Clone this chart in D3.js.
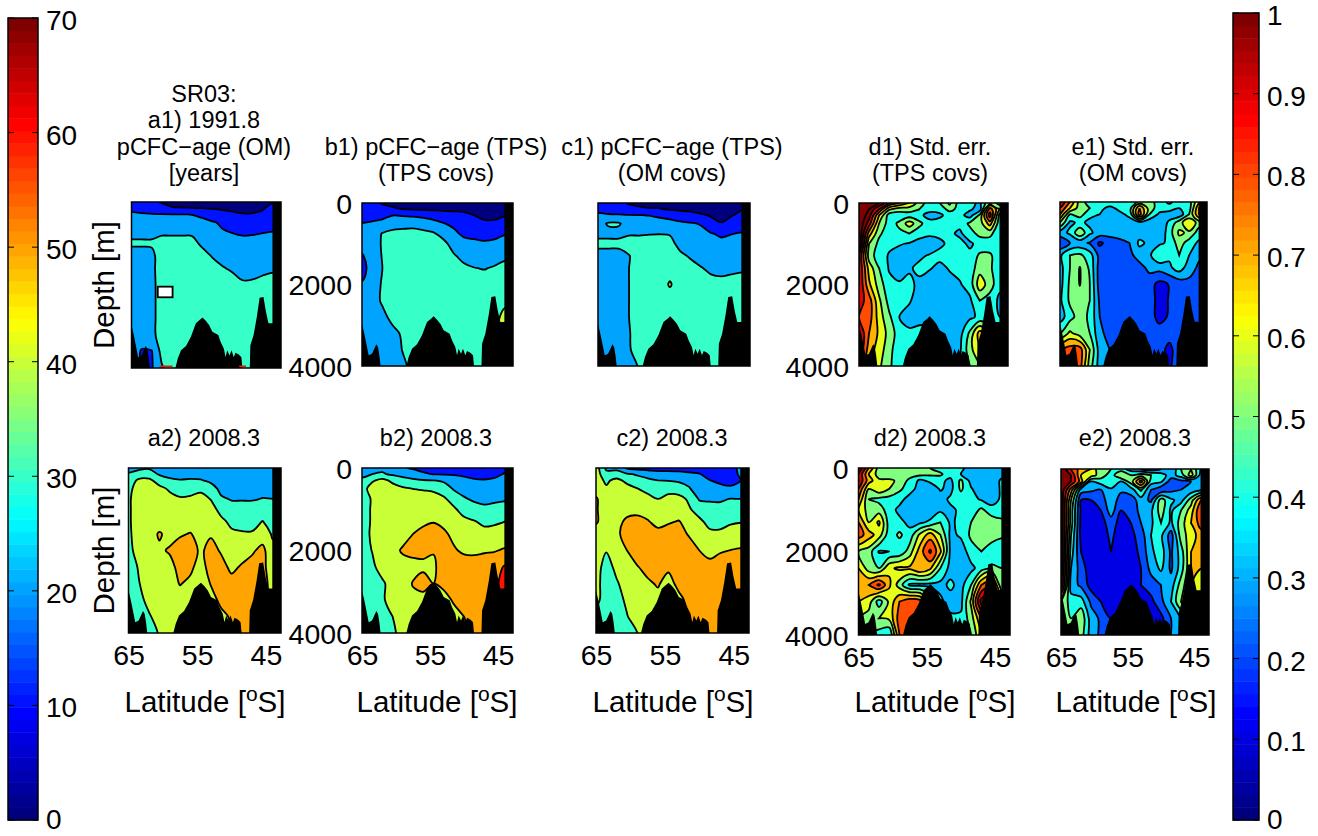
<!DOCTYPE html>
<html>
<head>
<meta charset="utf-8">
<script src="https://cdn.jsdelivr.net/npm/d3@7"></script>
<style>
  body { margin: 0; background: #fff; }
  text { font-family: "Liberation Sans", Arial, sans-serif; fill: #000; }
</style>
</head>
<body>
<svg id="chart" width="1318" height="836"></svg>
<script>
// grid the fields are read on
const gridLat = [65, 63.5, 62, 60.5, 59, 57.5, 56, 54.5, 53, 51.5, 50, 48.5, 47, 45.5, 44];
const gridDepth = [0, 150, 300, 500, 750, 1000, 1300, 1600, 2000, 2400, 2800, 3200, 3600, 4000];

// pCFC-age fields [years], one row per depth
const ageA1 = [
  [13,13,11,9.6,8,7,7,6,6,6,6,6,6,7,9],
  [17,16,15,12,10.6,10.4,10.2,10,9.6,9.2,8.8,8.4,7.6,9,14],
  [22,21,20.6,20.4,20.2,20.1,19.8,17,13,12,11,10.3,10.7,12,15],
  [25,25,25,25,25,25,25,24,21.5,18,16,15,15,16,17],
  [28.5,28.5,28.5,29,29,29,29,26,23.5,21.5,20,19,19.3,20,20.5],
  [31,31,31,33,33,33,32.5,28.5,26,24.5,23.5,23,23,23.5,24],
  [27,27,28,34,34,34,34,33,29.5,27.5,26,25.5,25.5,26,26.5],
  [27,27,28,34,35,35,35,35,33,30.6,29,28,28,28.5,29],
  [26,26,27.5,34,35,35,35,35,35,34,33,30.8,31,32,33],
  [26,26,27.5,34,35,35,35,35,35,35,35,35,35,35,35],
  [26,26,27.5,34,35,35,35,35,35,35,35,35,35,35,35],
  [26,26,27.5,34,35,35,35,35,35,35,35,35,35,35,35],
  [26,19,19.5,33,35,35,35,35,35,35,35,35,35,35,35],
  [26,19,19,29,35,35,35,35,35,35,35,35,35,35,35]
];
const ageB1 = [
  [15,12,9.5,8,7,6,6,6,6,6,5,5,5,5,5],
  [15.5,13,12,11,9.8,9.3,8.7,8.5,8,7.8,7.6,6.5,5.5,5.5,6],
  [16,17,18,19.9,19.5,19,18,16,15,14,12.5,10,8,8,9.5],
  [20.2,21,22,23,24,25,24,23,20.2,18.5,16,14,11.5,11.5,13],
  [24,25,30.5,34,35,35,33,31,26.5,21.5,18.5,18.5,18,18,19.5],
  [24,25,31,35,35,35,35,35,32.5,26,22.5,21.2,20.8,21.5,23],
  [19,25,30.5,35,35,35,35,35,35,31,27,25,24.5,26,28],
  [16,25,30,35,35,35,35,35,35,35,32,30.3,29.5,31,33],
  [21,25,31,35,35,35,35,35,35,35,35,35,35,35,36],
  [25,25,31.5,35,35,35,35,35,35,35,35,35,35,35,36],
  [25,25,27,33,35,35,35,35,35,35,35,35,35,35,45],
  [25,25,24,27,31.5,35,35,35,35,35,35,35,35,38,45],
  [25,25,24,25,30.5,35,35,35,35,35,35,35,35,35,40],
  [25,25,24,24,28,33,35,35,35,35,35,35,35,35,35]
];
const ageC1 = [
  [13,13,12,9.6,9,8.5,8,7.5,7,7,6.5,6,6,6,7],
  [17,16,15,11.5,10.8,10.4,10.4,9,8,7.5,7,6.5,6.5,7.5,9.5],
  [22,21,20.8,20.4,20.2,19.7,18.3,17,15.4,13.7,11,9.2,8.5,9.5,12],
  [27,30.8,30.8,27,26,25,23.8,23,21.4,20.6,19.5,13,10.2,14,16],
  [28,28,28,29,29,29.5,29.7,29.3,25,23,22,20.4,19,19.8,20.5],
  [32,32,32,34,34,34,34,33,27,25,23.5,22.8,21.6,22.3,23],
  [27,27,27,29.5,34,35,35,35,32,29,27,25.5,25,25.5,26],
  [26,26,26,29.9,34,35,35,36,35,33,30.5,28.5,28,28.5,29],
  [26,26,26,29.9,34,35,35,41,35,35,34.5,32.5,32,32.5,33],
  [26,26,26,29.9,34,35,35,35,35,35,35,35,35,35,35],
  [26,26,26,29.9,34,35,35,35,35,35,35,35,35,35,35],
  [26,26,26,29.5,33,35,35,35,35,35,35,35,35,35,35],
  [26,26,26,29,34,35,35,35,35,35,35,35,35,35,35],
  [26,26,26,25,31,35,35,35,35,35,35,35,35,35,35]
];
const ageA2 = [
  [27,28,29,27,26,26,26,26,25,24,24,24,24,24,24],
  [31,34,34.5,29,27.5,27,27.5,27,26,25,25,25,25,25,25],
  [34,42,42,36,31.4,30.4,30.8,30.5,28.5,26.5,26,26,26,26,26],
  [37.5,44,45,42.5,38.6,35,35.8,37.5,33,28,27.5,27.5,27.5,28,28],
  [38.5,45,45,45,43,41.2,41.8,44,39.5,31,29.5,29.5,29.5,30.2,30],
  [38.5,45,45,45,45,45,45,45,44,36.5,32.7,32.5,32.4,35,33],
  [38.5,45,45,45,45,46,46,46,46,42.5,37.5,36.8,36.6,40.3,36.5],
  [38,45,46,51,47,49,50.5,47,49,46,42,41,41,44.5,39],
  [37,44,46,48.5,51,54,54,48.5,53,49,45.5,46,48.5,53,42],
  [34,41,45,46,47,53,52,46,54,53,48,51,54,54,42],
  [32,39.5,45,45,46,50.5,48,45,50.5,54,53,55,55,55,45],
  [31,37,43,46,46,46,46,45,47,52,54,55,55,55,45],
  [30,33,39,44,46,46,46,46,45,48,51,55,55,45,45],
  [30,32,35,41,45,46,46,46,45,46,50,55,55,45,45]
];
const ageB2 = [
  [27,28,28,25,21,19,18,18,17,17,17,17,17,18,18],
  [28,30,31,28.5,27,24,21,19.8,19.5,19,18,17,17,18.5,20.5],
  [31.5,38.5,43,37.5,33.5,32,30.6,30,28.5,25.5,23,21,20.5,21,22.5],
  [35,45,46,44.5,41.5,39.8,39,38,35,29,26.5,24,23,24,25],
  [35,41,46,46,46,46,45,44.5,41.5,36,31,28.5,27.5,28.5,29],
  [36,41,46,46,46,46,46,47,46,41.5,36,33.8,32,32.5,33.5],
  [36,41,46,46,46,47,48,49.5,48,45,42.5,40.6,38,38.5,40],
  [36,41.5,46,46,47,50,53,55,51.5,48,45.5,44,43,44,44],
  [36,40.3,45,47.5,51,52,51.5,50.5,54,51,48.5,48,49,49.5,51],
  [34,38,44,46,46.5,47.5,48.6,48.5,54,55,55,55,55,56,61],
  [34,35,38.5,44,46,50.5,53,50,52,54,55,55,55,57,65],
  [33,35,39,43,46,48,47,48,47,51,55,55,55,55,65],
  [33,34,36,40,45,47,47,47,47,47,50,55,55,55,55],
  [33,34,35,38,44,47,47,47,47,47,47,53,55,55,55]
];
const ageC2 = [
  [45,28,28,19,17,16,16,15,15,15,15,13,12,17,22],
  [45,33,33,31,29,27,24,25,24,22,20.5,17,15,15,22],
  [45,38,43,37,33.7,31.5,30,29.5,28.5,27,23,20.2,18,17,20],
  [46,41.5,45,44,40.2,37,33.5,36.5,35.5,30.8,25,24,22.7,21.5,25],
  [51,45,45,45,45.5,43,40,43,43,38.5,29,29,29,30.2,30],
  [51,45,46,46.5,47,47,45,46,45,41,36,32.7,32.3,35,34],
  [51,46,47,52,53,50.5,48,49,50.5,47,42,37,36.7,39,39.6],
  [46,41,47.5,55,55,54,52,54,54,49,45,42,42,43,44],
  [46,40.5,45,50,55,55,55,55,55,55,50,47,49,50.2,51],
  [44,36,42.5,47,49.5,53,55,52,55,55,55,53,55,55,55],
  [44,34,39,44,47,48.5,51,46,53,55,55,55,55,55,55],
  [44,33,36,42,46,47,47,47,47,53,55,55,55,55,55],
  [33,33,34,39.5,45,47,47,47,47,52,55,55,55,55,55],
  [33,33,33,35,40,46,47,47,47,47,55,55,55,55,55]
];

// standard error fields
const errD1 = [
  [1.2,1.2,1.1,.9,.8,.7,.55,.45,.5,.62,.45,.43,.38,.6,.45],
  [1.2,1.1,.9,.62,.55,.55,.5,.43,.42,.55,.45,.42,.35,.85,.6],
  [1.2,1.05,.7,.45,.44,.45,.42,.37,.39,.42,.44,.35,.52,.95,.45],
  [1.2,.95,.6,.45,.52,.65,.53,.43,.42,.42,.43,.52,.55,.75,.42],
  [1.2,.75,.52,.44,.48,.5,.44,.42,.42,.42,.38,.46,.53,.53,.42],
  [1.2,.6,.47,.42,.41,.39,.36,.34,.38,.42,.43,.38,.44,.44,.42],
  [1,.55,.45,.39,.35,.35,.385,.41,.43,.43,.43,.43,.52,.52,.43],
  [1,.66,.5,.39,.36,.39,.42,.41,.37,.41,.43,.44,.56,.52,.42],
  [1,.72,.55,.43,.41,.42,.38,.33,.33,.36,.39,.44,.66,.55,.42],
  [.95,.85,.62,.46,.43,.41,.35,.33,.33,.33,.34,.38,.5,.45,.38],
  [.9,.85,.65,.52,.4,.36,.38,.38,.33,.33,.33,.38,.42,.4,.4],
  [1,.8,.68,.56,.45,.42,.42,.42,.38,.38,.36,.52,.75,.6,.5],
  [1,.75,.65,.54,.42,.42,.42,.42,.42,.38,.38,.56,.7,.6,.5],
  [.9,.7,.62,.52,.43,.42,.42,.42,.42,.42,.42,.5,.6,.6,.5]
];
const errE1 = [
  [1,.8,.55,.45,.5,.45,.45,.45,.52,.55,.45,.52,.45,.45,.7],
  [.9,.7,.55,.5,.42,.38,.42,.45,.8,.55,.45,.45,.4,.45,.8],
  [.8,.5,.55,.42,.4,.37,.38,.42,.85,.5,.38,.35,.33,.5,.8],
  [.6,.38,.42,.38,.36,.34,.38,.37,.37,.33,.32,.42,.55,.7,.55],
  [.35,.42,.58,.42,.35,.34,.36,.35,.36,.32,.32,.45,.62,.58,.45],
  [.22,.3,.33,.29,.18,.24,.26,.3,.42,.38,.38,.42,.55,.45,.38],
  [.38,.5,.52,.45,.26,.25,.25,.27,.35,.38,.5,.42,.5,.4,.32],
  [.36,.5,.605,.48,.25,.24,.24,.23,.26,.33,.34,.38,.45,.35,.28],
  [.36,.52,.605,.5,.25,.23,.22,.24,.2,.24,.17,.205,.24,.27,.27],
  [.38,.52,.56,.5,.28,.25,.24,.24,.24,.24,.17,.205,.24,.25,.25],
  [.35,.46,.55,.48,.3,.25,.24,.24,.24,.24,.17,.21,.24,.25,.25],
  [.5,.62,.55,.5,.32,.27,.24,.24,.24,.24,.24,.24,.25,.25,.25],
  [.8,.85,.85,.6,.35,.3,.27,.27,.27,.24,.24,.17,.26,.27,.27],
  [.85,.85,.85,.55,.35,.33,.3,.3,.3,.27,.24,.17,.3,.3,.3]
];
const errD2 = [
  [1.1,.8,.55,.5,.5,.5,.5,.5,.45,.43,.42,.36,.35,.35,.35],
  [1,.7,.55,.53,.55,.55,.53,.52,.52,.43,.4,.38,.32,.33,.36],
  [1,.75,.62,.62,.58,.47,.38,.42,.42,.38,.52,.36,.32,.33,.42],
  [.9,.6,.68,.6,.52,.45,.35,.34,.41,.37,.52,.41,.33,.33,.42],
  [.8,.5,.47,.46,.44,.35,.34,.34,.36,.42,.44,.43,.39,.35,.42],
  [.7,.55,.55,.45,.37,.33,.33,.33,.38,.38,.42,.44,.52,.44,.45],
  [.8,.6,.72,.45,.43,.37,.38,.42,.5,.38,.43,.5,.55,.56,.52],
  [.85,.75,.65,.44,.52,.44,.62,.75,.6,.37,.42,.52,.56,.56,.52],
  [.6,.55,.39,.4,.42,.55,.75,.92,.72,.37,.33,.46,.5,.43,.42],
  [.7,.55,.5,.68,.72,.72,.8,.72,.5,.36,.33,.37,.45,.52,.5],
  [.75,.8,.92,.72,.55,.38,.37,.37,.37,.42,.36,.5,.8,.9,.5],
  [.7,.65,.45,.62,.8,.88,.85,.6,.42,.36,.37,.62,1.05,1.1,.8],
  [.6,.55,.6,.62,.85,.9,.88,.6,.45,.42,.42,.55,.8,1.1,1],
  [.6,.5,.45,.4,.8,.88,.85,.6,.45,.42,.42,.5,.7,1.1,1]
];
const errE2 = [
  [1.1,.9,.75,.7,.5,.5,.45,.35,.3,.25,.3,.3,.5,.6,.4],
  [1.1,1,.7,.65,.55,.45,.6,.5,.55,.5,.45,.35,.45,.65,.35],
  [1.1,1,.75,.4,.45,.5,.4,.55,.85,.45,.42,.25,.27,.3,.3],
  [1.1,.75,.35,.32,.3,.38,.32,.35,.52,.3,.22,.27,.3,.33,.38],
  [1.1,.6,.2,.2,.25,.37,.25,.25,.35,.28,.55,.42,.36,.55,.8],
  [1.1,.55,.18,.17,.2,.35,.2,.22,.34,.38,.55,.38,.5,.65,.9],
  [1.1,.55,.17,.16,.16,.25,.16,.2,.3,.38,.5,.38,.55,.7,.85],
  [1.1,.5,.17,.15,.15,.22,.15,.17,.25,.4,.42,.25,.55,.65,.75],
  [1.1,.45,.2,.14,.14,.2,.14,.16,.22,.38,.45,.28,.45,.7,.72],
  [1.1,.4,.25,.14,.14,.14,.14,.15,.2,.33,.42,.28,.45,.7,.7],
  [1,.35,.28,.16,.14,.14,.14,.15,.2,.25,.3,.35,.55,.7,.65],
  [.6,.45,.45,.28,.2,.15,.2,.2,.17,.17,.27,.4,.6,.7,.6],
  [.55,.5,.58,.35,.28,.2,.2,.2,.2,.15,.17,.3,.4,.6,.6],
  [.5,.5,.55,.35,.28,.2,.2,.2,.2,.15,.2,.3,.35,.5,.5]
];

// sea floor plus the land strip, as [latitude, depth]
const bathyLat = [65,64.66,64.26,64.02,63.53,63.19,62.89,62.65,62.45,62.2,58.63,58.14,57.65,56.91,56.18,55.44,54.85,54.46,53.97,53.48,52.99,52.11,51.77,51.28,51.03,50.79,50.44,50.15,49.81,49.56,49.07,48.68,48.48,47.45,47.35,46.87,46.38,45.98,45.4,45.05,44.66,44.07,44.07,42,42,66];
const bathyDepth = [2961,3207,3534,3738,3697,3575,3468,3534,3738,4100,4100,3779,3575,3468,3247,2920,2838,2781,2863,2961,3125,3207,3370,3534,3738,3575,3697,3575,3738,3632,3673,3738,4100,4100,3452,3207,2757,2307,2290,2634,2920,2920,-100,-100,4100,4100];

const ageLevels = [0, 10, 20, 30, 40, 50, 60];
const errLevels = [0, .1, .2, .3, .4, .5, .6, .7, .8, .9, 1, 1.1];
const ageTicks = [0, 10, 20, 30, 40, 50, 60, 70];
const errTicks = [0, .1, .2, .3, .4, .5, .6, .7, .8, .9, 1];
const latTicks = [65, 55, 45];
const depthTicks = [0, 2000, 4000];

// white gap in panel a1 and the red bits on its floor
const gapLat = [61.1, 58.9];
const gapDepth = [2040, 2296];
const floorLat = [[60.8, 58.9], [49, 48]];

const jet = d3.scaleLinear()
  .domain([0, .125, .375, .625, .875, 1])
  .range(['#00007f', '#0000ff', '#00ffff', '#ffff00', '#ff0000', '#7f0000'])
  .clamp(true);

const panels = [
  { id: 'a1', box: [131.5, 202, 281, 368], grid: ageA1, title: ['SR03:', 'a1) 1991.8', 'pCFC\u2212age (OM)', '[years]'], cx: 204, depthLabel: true },
  { id: 'b1', box: [362, 203, 513, 366], grid: ageB1, title: ['b1) pCFC\u2212age (TPS)', '(TPS covs)'], cx: 436, ticks: true },
  { id: 'c1', box: [598, 203, 750, 366], grid: ageC1, title: ['c1) pCFC\u2212age (TPS)', '(OM covs)'], cx: 672 },
  { id: 'd1', box: [859, 203, 1008, 366], grid: errD1, title: ['d1) Std. err.', '(TPS covs)'], cx: 930, ticks: true },
  { id: 'e1', box: [1060, 202, 1207, 366], grid: errE1, title: ['e1) Std. err.', '(OM covs)'], cx: 1133 },
  { id: 'a2', box: [128.5, 468, 281, 633], grid: ageA2, title: ['a2) 2008.3'], cx: 204, depthLabel: true, bottom: 205 },
  { id: 'b2', box: [362, 468, 513, 633], grid: ageB2, title: ['b2) 2008.3'], cx: 436, ticks: true, bottom: 437 },
  { id: 'c2', box: [596, 468, 749, 633], grid: ageC2, title: ['c2) 2008.3'], cx: 672, bottom: 673 },
  { id: 'd2', box: [858.5, 468, 1010, 635], grid: errD2, title: ['d2) 2008.3'], cx: 930, ticks: true, bottom: 935 },
  { id: 'e2', box: [1061, 469, 1209, 635], grid: errE2, title: ['e2) 2008.3'], cx: 1135, bottom: 1136 }
];

const svg = d3.select('#chart');
const defs = svg.append('defs');
const ageLike = (p) => p.grid === ageA1 || p.grid === ageB1 || p.grid === ageC1 || p.grid === ageA2 || p.grid === ageB2 || p.grid === ageC2;

panels.forEach((p) => {
  const [x0, y0, x1, y1] = p.box;
  const x = d3.scaleLinear().domain([65, 42.8]).range([x0, x1]);
  const y = d3.scaleLinear().domain([0, 4000]).range([y0, y1]);

  // pad the grid by one cell so the contours run off the panel edge
  const padLat = [66.5, ...gridLat, 42.5];
  const padDepth = [-200, ...gridDepth, 4300];
  const latOf = d3.scaleLinear().domain(d3.range(padLat.length)).range(padLat);
  const depthOf = d3.scaleLinear().domain(d3.range(padDepth.length)).range(padDepth);
  const padRows = [p.grid[0], ...p.grid, p.grid[p.grid.length - 1]]
    .map((r) => [r[0], ...r, r[r.length - 1]]);
  const values = padRows.flat();

  const isAge = ageLike(p);
  const levels = isAge ? ageLevels : errLevels;
  const colorOf = (t) => jet(isAge ? t / 70 : t);

  const contours = d3.contours()
    .size([padLat.length, padDepth.length])
    .thresholds(levels)(values);

  defs.append('clipPath').attr('id', `clip-${p.id}`)
    .append('rect')
    .attr('x', x0).attr('y', y0)
    .attr('width', x1 - x0).attr('height', y1 - y0);

  const g = svg.append('g').attr('clip-path', `url(#clip-${p.id})`);

  // base colour for anything below the first level
  g.append('rect')
    .attr('x', x0).attr('y', y0)
    .attr('width', x1 - x0).attr('height', y1 - y0)
    .attr('fill', colorOf(levels[0]));

  const ringPath = d3.line()
    .x((d) => x(latOf(d[0] - 0.5)))
    .y((d) => y(depthOf(d[1] - 0.5)))
    .curve(d3.curveCatmullRomClosed.alpha(0.5));

  contours.forEach((c) => {
    const d = c.coordinates
      .flat()
      .map((ring) => ringPath(ring.slice(0, -1)))
      .join('');
    if (!d) return;
    g.append('path')
      .attr('d', d)
      .attr('fill', colorOf(c.value))
      .attr('fill-rule', 'evenodd')
      .attr('stroke', '#000')
      .attr('stroke-width', 1.8);
  });

  if (p.id === 'a1') {
    g.append('rect')
      .attr('x', x(gapLat[0])).attr('y', y(gapDepth[0]))
      .attr('width', x(gapLat[1]) - x(gapLat[0]))
      .attr('height', y(gapDepth[1]) - y(gapDepth[0]))
      .attr('fill', '#fff').attr('stroke', '#000').attr('stroke-width', 1.8);
  }

  const bathy = d3.line().x((d) => x(d[0])).y((d) => y(d[1]));
  g.append('path')
    .attr('d', `${bathy(d3.zip(bathyLat, bathyDepth))}Z`)
    .attr('fill', '#000');

  if (p.id === 'a1') {
    floorLat.forEach((f) => {
      g.append('rect')
        .attr('x', x(f[0])).attr('y', y1 - 2.5)
        .attr('width', x(f[1]) - x(f[0])).attr('height', 1.5)
        .attr('fill', '#ff1200');
    });
  }

  // frame
  svg.append('rect')
    .attr('x', x0).attr('y', y0)
    .attr('width', x1 - x0).attr('height', y1 - y0)
    .attr('fill', 'none').attr('stroke', '#000').attr('stroke-width', 1.5);

  // titles
  const n = p.title.length;
  const lastY = y0 < 300 ? 181 : 446;
  p.title.forEach((t, i) => {
    svg.append('text')
      .attr('x', p.cx)
      .attr('y', lastY - (n - 1 - i) * 26.4)
      .attr('text-anchor', 'middle')
      .attr('font-size', 23.5)
      .text(t);
  });

  // axes, labels only, no tick marks in the original
  if (p.ticks) {
    const yAxis = svg.append('g')
      .attr('transform', `translate(${x0},0)`)
      .call(d3.axisLeft(y).tickValues(depthTicks).tickFormat(d3.format('d')).tickSize(0).tickPadding(10));
    yAxis.select('.domain').remove();
    yAxis.selectAll('text').attr('font-size', 28.5).attr('font-family', '"Liberation Sans"').attr('dy', '0.36em');
  }
  if (p.bottom) {
    const xAxis = svg.append('g')
      .attr('transform', `translate(0,${y1})`)
      .call(d3.axisBottom(x).tickValues(latTicks).tickSize(0).tickPadding(12));
    xAxis.select('.domain').remove();
    xAxis.selectAll('text').attr('font-size', 28.5).attr('font-family', '"Liberation Sans"');

    const label = svg.append('text')
      .attr('x', p.bottom).attr('y', 712)
      .attr('text-anchor', 'middle')
      .attr('font-size', 29.5);
    label.append('tspan').text('Latitude [');
    label.append('tspan').attr('font-size', 21).attr('dy', -11).text('o');
    label.append('tspan').attr('dy', 11).text('S]');
  }
  if (p.depthLabel) {
    svg.append('text')
      .attr('transform', `translate(114,${(y0 + y1) / 2}) rotate(-90)`)
      .attr('text-anchor', 'middle')
      .attr('font-size', 29.5)
      .text('Depth [m]');
  }
});

// colorbars
function colorbar(x0, x1, y0, y1, max, ticks, format, labelX) {
  const y = d3.scaleLinear().domain([0, max]).range([y1, y0]);
  const steps = d3.range(64);
  const g = svg.append('g');
  g.selectAll('rect').data(steps).join('rect')
    .attr('x', x0)
    .attr('width', x1 - x0)
    .attr('y', (i) => y((i + 1) / 64 * max))
    .attr('height', (i) => y(i / 64 * max) - y((i + 1) / 64 * max) + 0.5)
    .attr('fill', (i) => jet(i / 63));
  g.selectAll('line.l').data(ticks).join('line')
    .attr('class', 'l')
    .attr('x1', x0).attr('x2', x0 + 6)
    .attr('y1', (d) => y(d)).attr('y2', (d) => y(d))
    .attr('stroke', '#000').attr('stroke-width', 1);
  g.selectAll('line.r').data(ticks).join('line')
    .attr('class', 'r')
    .attr('x1', x1 - 6).attr('x2', x1)
    .attr('y1', (d) => y(d)).attr('y2', (d) => y(d))
    .attr('stroke', '#000').attr('stroke-width', 1);
  g.append('rect')
    .attr('x', x0).attr('y', y0)
    .attr('width', x1 - x0).attr('height', y1 - y0)
    .attr('fill', 'none').attr('stroke', '#000').attr('stroke-width', 1.5);
  g.selectAll('text').data(ticks).join('text')
    .attr('x', labelX)
    .attr('y', (d) => Math.min(y(d) + 12, 829))
    .attr('font-size', 28)
    .text(format);
}
colorbar(8, 38, 18, 820, 70, ageTicks, (d) => d, 46);
colorbar(1233, 1259, 13, 820, 1, errTicks, (d) => d, 1267);
</script>
</body>
</html>
